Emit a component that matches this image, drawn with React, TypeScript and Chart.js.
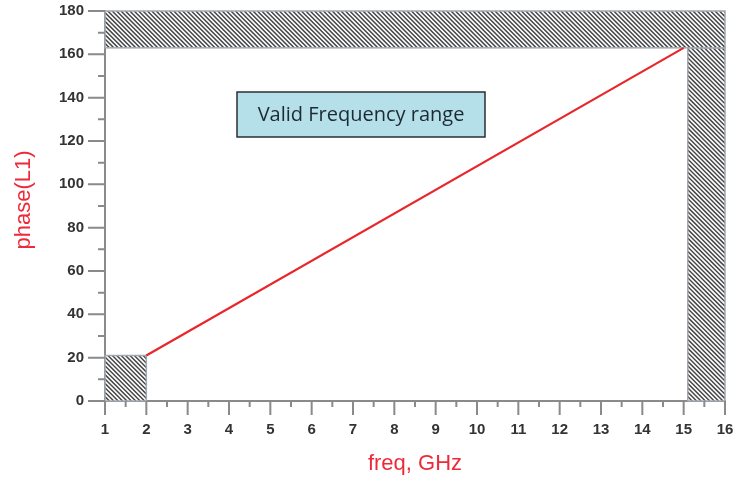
import React, { useEffect, useRef } from "react";
import { Chart, registerables } from "chart.js";

Chart.register(...registerables);

// Phase of L1 versus frequency
const freqGHz = [2, 15];
const phaseL1 = [21, 163];

// Axis tick values
const freqTicks = [1, 2, 3, 4, 5, 6, 7, 8, 9, 10, 11, 12, 13, 14, 15, 16];
const phaseTicks = [0, 20, 40, 60, 80, 100, 120, 140, 160, 180];

// Excluded (hatched) regions, one entry per block
const blockFreqMin = [1, 15.1, 1];
const blockFreqMax = [2, 16, 16];
const blockPhaseMin = [0, 0, 163];
const blockPhaseMax = [21, 163, 180];

const AXIS_GRAY = "#8a8a8a";
const LINE_RED = "#e8262b";
const TITLE_RED = "#ee2a3a";
const TICK_FONT = "'Liberation Sans', Arial, sans-serif";

function hatchRect(ctx: CanvasRenderingContext2D, x0: number, y0: number, x1: number, y1: number) {
  const w = x1 - x0;
  const h = y1 - y0;
  ctx.save();
  ctx.fillStyle = "#ffffff";
  ctx.fillRect(x0, y0, w, h);
  ctx.beginPath();
  ctx.rect(x0, y0, w, h);
  ctx.clip();
  ctx.strokeStyle = "#474747";
  ctx.lineWidth = 1.5;
  ctx.beginPath();
  const step = 4.4;
  for (let x = x0 - h; x <= x1 + step; x += step) {
    ctx.moveTo(x, y0);
    ctx.lineTo(x + h, y0 + h);
  }
  ctx.stroke();
  ctx.restore();
  ctx.save();
  ctx.strokeStyle = "#a0a8b0";
  ctx.lineWidth = 1.5;
  ctx.strokeRect(x0, y0, w, h);
  ctx.restore();
}

const blocksPlugin = {
  id: "hatchedBlocks",
  beforeDatasetsDraw(chart: any) {
    const { ctx, scales } = chart;
    const xs = scales.x;
    const ys = scales.y;
    for (let i = 0; i < blockFreqMin.length; i++) {
      const x0 = xs.getPixelForValue(blockFreqMin[i]);
      const x1 = xs.getPixelForValue(blockFreqMax[i]);
      const y0 = ys.getPixelForValue(blockPhaseMax[i]);
      const y1 = ys.getPixelForValue(blockPhaseMin[i]);
      hatchRect(ctx, x0, y0, x1, y1);
    }
  },
};

const decorPlugin = {
  id: "decor",
  afterDraw(chart: any) {
    const { ctx, scales, chartArea } = chart;
    const xs = scales.x;
    const ys = scales.y;
    ctx.save();
    ctx.strokeStyle = AXIS_GRAY;
    ctx.lineWidth = 2;
    ctx.beginPath();
    // x tick marks: major at integers, minor halfway between
    for (let i = 0; i < freqTicks.length; i++) {
      const px = xs.getPixelForValue(freqTicks[i]);
      ctx.moveTo(px, chartArea.bottom);
      ctx.lineTo(px, chartArea.bottom + 14);
      if (i < freqTicks.length - 1) {
        const mx = xs.getPixelForValue((freqTicks[i] + freqTicks[i + 1]) / 2);
        ctx.moveTo(mx, chartArea.bottom);
        ctx.lineTo(mx, chartArea.bottom + 6);
      }
    }
    // y tick marks: major at labels, minor halfway between
    for (let i = 0; i < phaseTicks.length; i++) {
      const py = ys.getPixelForValue(phaseTicks[i]);
      ctx.moveTo(chartArea.left, py);
      ctx.lineTo(chartArea.left - 17, py);
      if (i < phaseTicks.length - 1) {
        const my = ys.getPixelForValue((phaseTicks[i] + phaseTicks[i + 1]) / 2);
        ctx.moveTo(chartArea.left, my);
        ctx.lineTo(chartArea.left - 7, my);
      }
    }
    ctx.stroke();

    // axis titles
    ctx.fillStyle = TITLE_RED;
    ctx.font = "22px 'Liberation Sans', Arial, sans-serif";
    ctx.textAlign = "center";
    ctx.textBaseline = "middle";
    ctx.fillText("freq, GHz", (chartArea.left + chartArea.right) / 2, 464);
    ctx.translate(24, 200);
    ctx.rotate(-Math.PI / 2);
    ctx.fillText("phase(L1)", 0, 0);
    ctx.restore();

    // annotation box
    ctx.save();
    const bx = 237;
    const by = 92;
    const bw = 248;
    const bh = 45;
    ctx.fillStyle = "#b5dfe9";
    ctx.fillRect(bx, by, bw, bh);
    ctx.strokeStyle = "#2b2f33";
    ctx.lineWidth = 1.5;
    ctx.strokeRect(bx, by, bw, bh);
    ctx.fillStyle = "#1d2a33";
    ctx.font = "20px 'Open Sans', sans-serif";
    ctx.textAlign = "center";
    ctx.textBaseline = "middle";
    ctx.fillText("Valid Frequency range", bx + bw / 2, by + bh / 2 + 1);
    ctx.restore();
  },
};

export default function App() {
  const canvasRef = useRef<HTMLCanvasElement | null>(null);

  useEffect(() => {
    document.body.style.margin = "0";
    const canvas = canvasRef.current;
    if (!canvas) return;
    const chart = new Chart(canvas, {
      type: "scatter",
      data: {
        datasets: [
          {
            data: freqGHz.map((f, i) => ({ x: f, y: phaseL1[i] })),
            showLine: true,
            borderColor: LINE_RED,
            borderWidth: 2.2,
            pointRadius: 0,
            fill: false,
          },
        ],
      },
      options: {
        animation: false,
        responsive: false,
        devicePixelRatio: 1,
        layout: { padding: { left: 0, right: 13, top: 11, bottom: 0 } },
        plugins: {
          legend: { display: false },
          tooltip: { enabled: false },
        },
        scales: {
          x: {
            type: "linear",
            min: 1,
            max: 16,
            afterFit: (scale: any) => {
              scale.height = 80;
              scale.paddingLeft = 0;
              scale.paddingRight = 0;
            },
            afterBuildTicks: (scale: any) => {
              scale.ticks = freqTicks.map((v) => ({ value: v }));
            },
            grid: { display: true, drawOnChartArea: false, drawTicks: false },
            border: { display: true, color: AXIS_GRAY, width: 2 },
            ticks: {
              padding: 20,
              color: "#333333",
              font: { family: TICK_FONT, size: 15, weight: "bold" },
              maxRotation: 0,
              autoSkip: false,
            },
          },
          y: {
            type: "linear",
            min: 0,
            max: 180,
            afterFit: (scale: any) => {
              scale.width = 105;
              scale.paddingTop = 0;
              scale.paddingBottom = 0;
            },
            afterBuildTicks: (scale: any) => {
              scale.ticks = phaseTicks.map((v) => ({ value: v }));
            },
            grid: { display: true, drawOnChartArea: false, drawTicks: false },
            border: { display: true, color: AXIS_GRAY, width: 2 },
            ticks: {
              padding: 21,
              color: "#333333",
              font: { family: TICK_FONT, size: 15, weight: "bold" },
              autoSkip: false,
            },
          },
        },
      },
      plugins: [blocksPlugin, decorPlugin],
    });
    return () => chart.destroy();
  }, []);

  return (
    <div style={{ width: 738, height: 481 }}>
      <canvas ref={canvasRef} width={738} height={481} />
    </div>
  );
}
